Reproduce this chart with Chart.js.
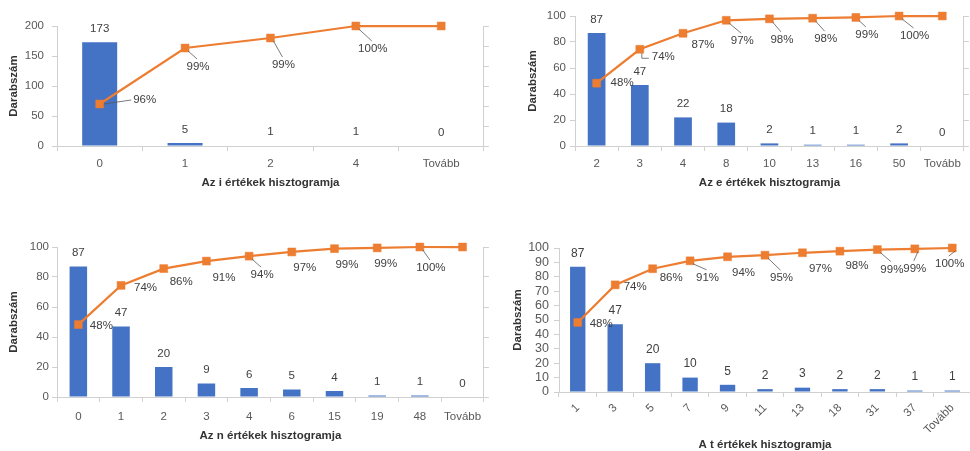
<!DOCTYPE html>
<html>
<head>
<meta charset="utf-8">
<script src="https://cdn.jsdelivr.net/npm/chart.js@4.4.1/dist/chart.umd.min.js"></script>
<style>
  html, body { margin: 0; padding: 0; background: #fff; overflow: hidden; width: 970px; height: 451px; }
  canvas { position: absolute; }
</style>
</head>
<body>
<canvas id="chartI"></canvas>
<canvas id="chartE"></canvas>
<canvas id="chartN"></canvas>
<canvas id="chartT"></canvas>
<script>
// ---- data: bin labels, frequencies and cumulative percentages ----
const binsI   = ['0', '1', '2', '4', 'Tovább'];
const countsI = [173, 5, 1, 1, 0];
const cumPctI = [96.1, 98.9, 99.4, 100, 100];

const binsE   = ['2', '3', '4', '8', '10', '13', '16', '50', 'Tovább'];
const countsE = [87, 47, 22, 18, 2, 1, 1, 2, 0];
const cumPctE = [48.3, 74.4, 86.7, 96.7, 97.8, 98.3, 98.9, 100, 100];

const binsN   = ['0', '1', '2', '3', '4', '6', '15', '19', '48', 'Tovább'];
const countsN = [87, 47, 20, 9, 6, 5, 4, 1, 1, 0];
const cumPctN = [48.3, 74.4, 85.6, 90.6, 93.9, 96.7, 98.9, 99.4, 100, 100];

const binsT   = ['1', '3', '5', '7', '9', '11', '13', '18', '31', '37', 'Tovább'];
const countsT = [87, 47, 20, 10, 5, 2, 3, 2, 2, 1, 1];
const cumPctT = [48.3, 74.4, 85.6, 91.1, 93.9, 95.0, 96.7, 97.8, 98.9, 99.4, 100];

const titleI = 'Az i értékek hisztogramja';
const titleE = 'Az e értékek hisztogramja';
const titleN = 'Az n értékek hisztogramja';
const titleT = 'A t értékek hisztogramja';
const yTitle = 'Darabszám';

// ---- styling ----
const FONT = "'Liberation Sans', Arial, sans-serif";
const BAR = '#4472C4';
const LINE = '#ED7D31';
const AXIS = '#d0d0d0';
const TICK_TXT = '#595959';
const LABEL_TXT = '#404040';
const TITLE_TXT = '#333333';

// Draws the value labels on bars, the percentage labels (with leader lines)
// on the cumulative line, and the two axis titles.
const annotate = {
  id: 'annotate',
  afterDatasetsDraw(chart, args, o) {
    const ctx = chart.ctx;
    const bars = chart.getDatasetMeta(0).data;
    const pts = chart.getDatasetMeta(1).data;
    const counts = chart.data.datasets[0].data;
    const cum = chart.data.datasets[1].data;
    ctx.save();
    ctx.textAlign = 'center';
    ctx.textBaseline = 'middle';
    ctx.fillStyle = LABEL_TXT;
    ctx.font = o.valueSize + 'px ' + FONT;
    bars.forEach((b, i) => ctx.fillText(String(counts[i]), b.x, b.y - o.valueGap));

    ctx.font = o.pctSize + 'px ' + FONT;
    pts.forEach((p, i) => {
      const off = o.pctOffsets[i];
      if (!off) return;
      const txt = Math.round(cum[i]) + '%';
      const cx = p.x + off[0], cy = p.y + off[1];
      const w = ctx.measureText(txt).width;
      const lead = o.leaders[i];
      if (lead) {
        ctx.beginPath();
        ctx.strokeStyle = '#595959';
        ctx.lineWidth = 0.8;
        if (lead === 2) {
          ctx.moveTo(p.x + 2, p.y + 4);
          ctx.lineTo(p.x + 2, cy + 1);
          ctx.lineTo(cx - w / 2 - 3, cy + 1);
        } else if (Math.abs(off[1]) < 8) {
          ctx.moveTo(p.x + 4, p.y);
          ctx.lineTo(cx - w / 2 - 2, cy);
        } else {
          ctx.moveTo(p.x + 3, p.y + 3);
          ctx.lineTo(cx - 1, cy - 8);
        }
        ctx.stroke();
      }
      ctx.fillStyle = LABEL_TXT;
      ctx.fillText(txt, cx, cy);
    });
    ctx.restore();
  },
  afterDraw(chart, args, o) {
    const ctx = chart.ctx;
    const a = chart.chartArea;
    ctx.save();
    ctx.fillStyle = TITLE_TXT;
    ctx.font = 'bold ' + o.titleSize + 'px ' + FONT;
    ctx.textAlign = 'center';
    ctx.textBaseline = 'middle';
    ctx.fillText(o.xTitle, (a.left + a.right) / 2, a.bottom + o.xTitleGap);
    ctx.translate(o.yTitleX, (a.top + a.bottom) / 2);
    ctx.rotate(-Math.PI / 2);
    ctx.fillText(yTitle, 0, 0);
    ctx.restore();
  }
};

function makeChart(cfg) {
  const cv = document.getElementById(cfg.id);
  cv.width = cfg.box.w; cv.height = cfg.box.h;
  cv.style.left = cfg.box.x + 'px'; cv.style.top = cfg.box.y + 'px';
  const leftW = cfg.area.l - cfg.box.x;
  const rightW = cfg.box.x + cfg.box.w - cfg.area.r;
  const bottomH = cfg.box.y + cfg.box.h - cfg.area.b;
  const padTop = cfg.area.t - cfg.box.y;
  const rightColor = cfg.rightAxis ? AXIS : 'rgba(0,0,0,0)';

  return new Chart(cv, {
    data: {
      labels: cfg.bins,
      datasets: [
        {
          type: 'bar', data: cfg.counts, yAxisID: 'y', order: 2,
          backgroundColor: BAR, borderWidth: 0,
          barPercentage: 0.41, categoryPercentage: 1.0
        },
        {
          type: 'line', data: cfg.cum, yAxisID: 'y1', order: 1, clip: false,
          borderColor: LINE, borderWidth: 2.25, tension: 0,
          pointStyle: 'rect', pointRadius: 5.6, pointBorderWidth: 0.5,
          pointBackgroundColor: LINE, pointBorderColor: LINE
        }
      ]
    },
    options: {
      responsive: false, animation: false, devicePixelRatio: 1,
      layout: { padding: { top: padTop, left: 0, right: 0, bottom: 0 } },
      plugins: {
        legend: { display: false }, tooltip: { enabled: false },
        annotate: {
          valueSize: cfg.valueSize, valueGap: 13.5, pctSize: 11.5,
          pctOffsets: cfg.pctOffsets, leaders: cfg.leaders,
          titleSize: 11.5, xTitle: cfg.xTitle, xTitleGap: cfg.xTitleGap,
          yTitleX: cfg.yTitleX
        }
      },
      scales: {
        x: {
          type: 'category', offset: true,
          grid: { offset: true, drawOnChartArea: false, drawTicks: true, tickLength: 5, color: AXIS },
          border: { display: true, color: AXIS },
          ticks: {
            color: TICK_TXT, font: { family: FONT, size: 11.5 }, padding: cfg.xPad,
            autoSkip: false, minRotation: cfg.rot, maxRotation: cfg.rot
          },
          afterFit: s => { s.height = bottomH; }
        },
        y: {
          position: 'left', min: cfg.yMin, max: cfg.yMax,
          grid: { drawOnChartArea: false, drawTicks: true, tickLength: 5, color: AXIS },
          border: { display: true, color: AXIS },
          ticks: {
            stepSize: cfg.yStep, autoSkip: false, color: TICK_TXT,
            font: { family: FONT, size: cfg.yFont }, padding: cfg.yPad
          },
          afterFit: s => { s.width = leftW; }
        },
        y1: {
          position: 'right', min: cfg.pMin, max: 100,
          grid: { drawOnChartArea: false, drawTicks: true, tickLength: 5, color: rightColor },
          border: { display: true, color: rightColor },
          ticks: { display: false, stepSize: cfg.pStep, autoSkip: false },
          afterFit: s => { s.width = rightW; }
        }
      }
    },
    plugins: [annotate]
  });
}

makeChart({
  id: 'chartI', box: { x: 0, y: 0, w: 490, h: 200 }, area: { l: 57, r: 487, t: 26, b: 146 },
  bins: binsI, counts: countsI, cum: cumPctI, rightAxis: true,
  yMin: 0, yMax: 200, yStep: 50, yFont: 11.5, yPad: 8, pMin: 94, pStep: 1,
  valueSize: 11.5, xPad: 6, rot: 0,
  pctOffsets: [[45, -4], [13, 19], [13, 27], [17, 23], null],
  leaders: [1, 1, 1, 1, 0],
  xTitle: titleI, xTitleGap: 37, yTitleX: 14
});

makeChart({
  id: 'chartE', box: { x: 490, y: 0, w: 480, h: 200 }, area: { l: 575, r: 967, t: 16, b: 146 },
  bins: binsE, counts: countsE, cum: cumPctE, rightAxis: true,
  yMin: 0, yMax: 100, yStep: 20, yFont: 11.5, yPad: 4, pMin: 0, pStep: 20,
  valueSize: 11.5, xPad: 6, rot: 0,
  pctOffsets: [[25.5, 0], [23.5, 8], [20, 12], [16, 21], [12.5, 21], [13, 21], [11, 17.5], [15.5, 20], null],
  leaders: [0, 2, 0, 1, 1, 1, 1, 1, 0],
  xTitle: titleE, xTitleGap: 37, yTitleX: 43
});

makeChart({
  id: 'chartN', box: { x: 0, y: 225, w: 490, h: 226 }, area: { l: 57, r: 487, t: 247, b: 397 },
  bins: binsN, counts: countsN, cum: cumPctN, rightAxis: true,
  yMin: 0, yMax: 100, yStep: 20, yFont: 11.5, yPad: 3, pMin: 0, pStep: 20,
  valueSize: 11.5, xPad: 8, rot: 0,
  pctOffsets: [[23, 1], [24.5, 2], [17.5, 13.5], [17.5, 17], [13, 19], [13, 16], [12.5, 16.5], [8.5, 16], [11, 21], null],
  leaders: [0, 0, 0, 0, 1, 0, 0, 0, 1, 0],
  xTitle: titleN, xTitleGap: 39, yTitleX: 14
});

makeChart({
  id: 'chartT', box: { x: 490, y: 225, w: 490, h: 226 }, area: { l: 559, r: 971, t: 248, b: 392 },
  bins: binsT, counts: countsT, cum: cumPctT, rightAxis: false,
  yMin: 0, yMax: 100, yStep: 10, yFont: 12.5, yPad: 5, pMin: 0, pStep: 10,
  valueSize: 12, xPad: 4, rot: 45,
  pctOffsets: [[23.5, 1], [20, 2], [18.5, 9], [17.5, 17], [16, 16], [16.5, 23], [18, 16], [17, 15], [14.5, 20], [0, 20], [-2.5, 16]],
  leaders: [0, 0, 0, 1, 0, 1, 0, 0, 1, 1, 1],
  xTitle: titleT, xTitleGap: 53, yTitleX: 28
});
</script>
</body>
</html>
